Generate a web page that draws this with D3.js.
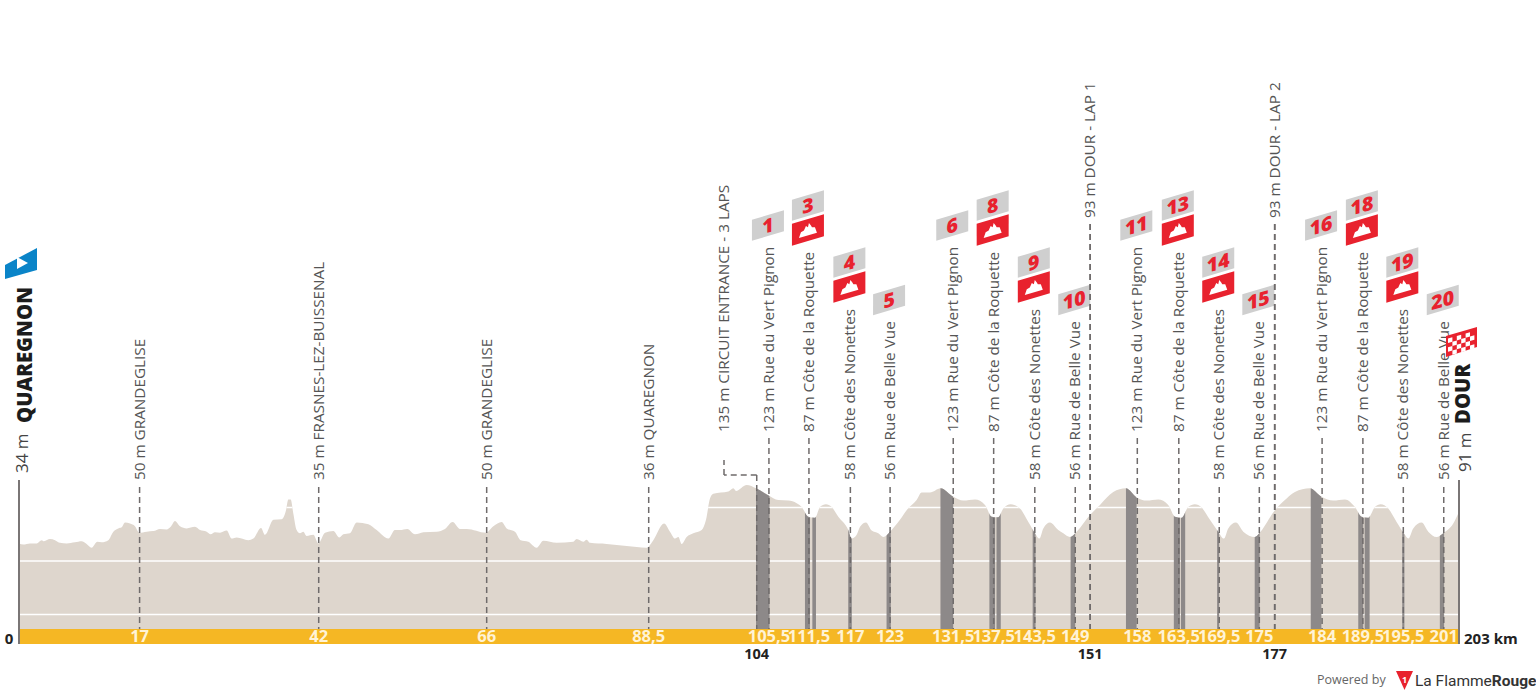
<!DOCTYPE html>
<html><head><meta charset="utf-8">
<script src="https://d3js.org/d3.v7.min.js"></script>
<style>html,body{margin:0;background:#fff}svg{display:block}text{font-family:"Open Sans",sans-serif}</style>
</head><body><svg id="c" width="1536" height="696"></svg>
<script>
// ---------- data ----------
const profileKm = [0,.61,1.55,2.49,3.2,3.52,4.37,5.08,5.78,6.72,7.89,8.83,9.45,10.24,11.04,11.65,12.59,13.3,14,14.47,14.94,15.65,16.35,16.96,18,18.94,19.88,20.82,21.38,21.99,22.7,23.64,24.81,25.52,26.46,27.02,27.63,28.34,29.28,29.98,30.69,32.33,33.04,34.12,34.68,35.86,37.03,37.64,37.97,38.3,38.67,39.14,39.61,40.08,40.55,41.49,42.2,43.14,44.31,45.16,45.72,46.66,47.6,49.25,50.42,52.07,53,53.71,54.74,55.82,57,58.88,60.05,61.13,62.17,63.11,65.83,66.87,68.04,68.75,69.92,70.72,71.8,72.98,73.92,75.79,78.14,78.61,79.55,80.02,80.49,82.84,85.66,88.48,89.42,90.93,91.77,92.48,92.95,93.42,94.12,95.06,96.24,96.85,97.41,97.88,100,100.7,101.08,102.58,103.9,105.63,107.04,108.45,109.63,110.33,111.27,112.21,112.92,113.76,114.56,115.5,116.91,117.38,118.09,118.56,119.4,120.2,121.14,121.85,122.79,124.19,125.13,126.54,127.25,128.42,129.93,131.71,133.12,134.77,136.18,137.12,138.06,138.76,139.8,141.11,142.29,143.23,143.84,144.4,145.34,146.51,147.22,148.16,149.1,150.98,152.39,154.26,156.05,157.55,158.96,160.6,162.01,162.95,163.89,164.83,165.77,166.71,167.89,169.06,169.86,170.47,171.55,172.59,174.23,174.84,177.05,178.7,179.87,181.98,183.63,185.27,186.92,188.33,189.27,190.21,191.15,191.95,193.03,194.2,195.38,195.85,196.55,197.73,198.67,199.84,200.78,202.19,203];
const profileM = [33,31,33,33,39,37,41,39,34,33,35,37,33,25,36,35,39,55,61,63,72,70,65,53,55,56,60,59,64,75,65,61,64,58,55,50,54,53,57,42,44,39,42,62,49,77,78,95,115,115,89,58,52,55,47,49,33,53,56,44,50,52,72,69,58,42,58,58,60,50,54,55,60,73,60,60,53,65,73,61,55,39,36,25,38,34,36,41,36,40,34,32,28,25,39,70,55,42,45,32,45,52,58,77,117,126,130,136,131,142,136,123,114,113,108,101,83,81,101,106,101,83,58,42,49,64,72,57,52,45,55,77,95,114,128,128,136,120,113,115,105,83,82,98,106,98,73,52,42,61,72,58,52,45,55,86,105,129,136,119,113,115,105,83,81,101,106,100,77,55,42,61,72,55,45,52,95,117,129,136,120,113,115,101,83,81,101,106,98,73,49,42,61,72,55,45,52,70,92];

const gridM = [-100, 0, 100];
const climbStart = [103.9,110.8,111.84,116.9,122.3,129.9,136.8,137.8,142.9,148.25,156.05,162.8,163.8,168.9,174.2,182.1,188.8,189.7,195,200.3];
const climbEnd   = [105.8,111.5,112.35,117.4,122.9,131.7,137.6,138.4,143.3,148.9,157.55,163.66,164.4,169.2,174.9,183.6,189.5,190.4,195.3,200.9];

const wpKm = [17,42.25,65.93,88.77,105.72,111.36,117.2,122.8,131.7,137.4,143.2,148.9,151,157.65,163.5,169.2,174.85,177.05,183.7,189.45,195.15,200.85];
const wpBar = ["17","42","66","88,5","105,5","111,5","117","123","131,5","137,5","143,5","149","","158","163,5","169,5","175","","184","189,5","195,5","201"];
const wpText = ["50 m GRANDEGLISE","35 m FRASNES-LEZ-BUISSENAL","50 m GRANDEGLISE","36 m QUAREGNON","123 m Rue du Vert Pignon","87 m Côte de la Roquette","58 m Côte des Nonettes","56 m Rue de Belle Vue","123 m Rue du Vert Pignon","87 m Côte de la Roquette","58 m Côte des Nonettes","56 m Rue de Belle Vue","93 m DOUR - LAP 1","123 m Rue du Vert Pignon","87 m Côte de la Roquette","58 m Côte des Nonettes","56 m Rue de Belle Vue","93 m DOUR - LAP 2","123 m Rue du Vert Pignon","87 m Côte de la Roquette","58 m Côte des Nonettes","56 m Rue de Belle Vue"];
const wpLane = ["low","low","low","low","mid","mid","low","low","mid","mid","low","low","high","mid","mid","low","low","high","mid","mid","low","low"];
const wpSector = ["","","","",1,3,4,5,6,8,9,10,"",11,13,14,15,"",16,18,19,20];
const wpMountain = [0,0,0,0,0,1,1,0,0,1,1,0,0,0,1,1,0,0,0,1,1,0];
const lapKm = [104,151,177];
const lapLabel = ["104","151","177"];
const entranceText = "135 m CIRCUIT ENTRANCE - 3 LAPS";
const totalKm = 203;

// ---------- layout ----------
const svg = d3.select("#c");
const x = d3.scaleLinear().domain([0,totalKm]).range([19,1459]);
const y = d3.scaleLinear().domain([-127,150]).range([629,480.8]);
const barH = 15, base = y(-127);
const laneBottom = {low:480, mid:432, high:218};
const dashTop = {low:487, mid:438, high:224};
const GREY="#6f6b6b", TXT="#555", RED="#e8222e", LABEL=15.3;
const pts = profileKm.map((k,i)=>[k,profileM[i]]);
const area = d3.area().x(d=>x(d[0])).y0(base).y1(d=>y(d[1])).curve(d3.curveMonotoneX);

svg.append("clipPath").attr("id","prof").append("path").attr("d",area(pts));
svg.append("path").attr("d",area(pts)).attr("fill","#ded6cd");
const clip = svg.append("g").attr("clip-path","url(#prof)");
clip.selectAll(".g").data(gridM).join("line").attr("x1",x(0)).attr("x2",x(totalKm))
  .attr("y1",d=>y(d)).attr("y2",d=>y(d)).attr("stroke","#fff").attr("stroke-width",1.6);
clip.selectAll(".b").data(climbStart).join("rect")
  .attr("x",d=>x(d)).attr("width",(d,i)=>x(climbEnd[i])-x(d)).attr("y",470).attr("height",170).attr("fill","#8d8989");

// yellow distance bar
svg.append("rect").attr("x",x(0)).attr("y",base).attr("width",x(totalKm)-x(0)).attr("height",barH).attr("fill","#f5b724");

// axis verticals
[0,totalKm].forEach(k=>svg.append("line").attr("x1",x(k)).attr("x2",x(k)).attr("y1",480).attr("y2",base+barH).attr("stroke","#7a7676").attr("stroke-width",2));

const dash = (x1,y1,x2,y2)=>svg.append("line").attr("x1",x1).attr("y1",y1).attr("x2",x2).attr("y2",y2)
  .attr("stroke",GREY).attr("stroke-width",1.5).attr("stroke-dasharray","6,4");

const vText = (px,bottom,str,size,weight,fill)=>svg.append("text")
  .attr("transform",`translate(${px},${bottom}) rotate(-90)`).attr("font-size",size)
  .attr("font-weight",weight||400).attr("fill",fill||TXT).text(str);

function badgePoly(g,cx,bottom,h,fill){ // parallelogram, left bottom at `bottom`
  const w=32,s=9.5;
  g.append("polygon").attr("points",[[cx-w/2,bottom-h],[cx+w/2,bottom-h-s],[cx+w/2,bottom-s],[cx-w/2,bottom]].join(" ")).attr("fill",fill);
}
const flags = svg.append("g");
wpKm.forEach((k,i)=>{
  const px=x(k), lane=wpLane[i];
  dash(px,dashTop[lane],px,base);
  const t=vText(px+5,laneBottom[lane],wpText[i],LABEL);
  const top=laneBottom[lane]-t.node().getComputedTextLength();
  if(wpSector[i]!==""){
    let b=top-6;
    const cx=px-1;
    if(wpMountain[i]){
      badgePoly(flags,cx,b,22,RED);
      flags.append("path").attr("transform",`translate(${cx},${b-15.5}) skewY(-16)`)
        .attr("d","M-9,5 L-7,0 L-4,-1 L-2,-5 L0,-3 L1,-7 L3,-4 L4,-2 L7,-1 L9,5 Z").attr("fill","#fff");
      b-=25;
    }
    badgePoly(flags,cx,b,21,"#cfcfcf");
    flags.append("text").attr("transform",`translate(${cx},${b-15.25}) skewY(-16)`)
      .attr("text-anchor","middle").attr("dy","0.36em").attr("font-size",19.5).attr("font-weight",800)
      .attr("fill",RED).text(wpSector[i]);
  }
  if(wpBar[i]) svg.append("text").attr("x",px).attr("y",base+13).attr("text-anchor","middle")
    .attr("font-size",16.5).attr("font-weight",700).attr("fill","#fff3d6").text(wpBar[i]);
});

// lap / entrance lines
lapKm.forEach((k,i)=>{
  svg.append("text").attr("x",x(k)).attr("y",659).attr("text-anchor","middle").attr("font-size",14.5).attr("font-weight",700).attr("fill","#222").text(lapLabel[i]);
});
dash(x(104),475,x(104),base);
dash(x(104),475,724,475);
dash(724,475,724,460);
vText(729,432,entranceText,LABEL);
dash(x(151),224,x(151),base);
dash(x(177),224,x(177),base);

// end labels
svg.append("text").attr("x",9).attr("y",644).attr("text-anchor","middle").attr("font-size",15).attr("font-weight",700).attr("fill","#222").text("0");
svg.append("text").attr("x",1464).attr("y",644).attr("font-size",15).attr("font-weight",700).attr("fill","#222").text(totalKm+" km");
vText(28,473,"34 m",17,400,"#444");
vText(32,423,"QUAREGNON",20.3,800,"#1c1c1c");
vText(1471,472,"91 m",17,400,"#444");
vText(1470,424,"DOUR",20.3,800,"#1c1c1c");

// start flag
svg.append("polygon").attr("points","5,265 37,248 37,270 5,279").attr("fill","#0a84c8");
svg.append("polygon").attr("points","17,257 28,263 17,269").attr("fill","#fff");

// finish flag
const ff=svg.append("g");
ff.append("polygon").attr("points","1446,336 1477,327 1477,347 1446,357").attr("fill",RED);
const cell=4.4;
for(let r=0;r<4;r++)for(let c=0;c<6;c++){ if((r+c)%2) continue;
  ff.append("rect").attr("transform",`translate(1448,${338.5}) skewY(-16)`).attr("x",c*cell).attr("y",r*cell).attr("width",cell).attr("height",cell).attr("fill","#fff");
}

// credit
svg.append("text").attr("x",1317).attr("y",684).attr("font-size",12.5).attr("fill","#666").text("Powered by");
svg.append("polygon").attr("points","1396,671 1413,671 1404.5,690").attr("fill",RED);
svg.append("text").attr("x",1404.5).attr("y",683).attr("text-anchor","middle").attr("font-size",9).attr("font-weight",700).attr("fill","#fff").text("1");
const lf=svg.append("text").attr("x",1415).attr("y",686).attr("font-size",15.5).attr("fill","#333").style("font-family","Roboto");
lf.append("tspan").text("La Flamme");
lf.append("tspan").attr("font-weight",700).text("Rouge");
</script></body></html>
